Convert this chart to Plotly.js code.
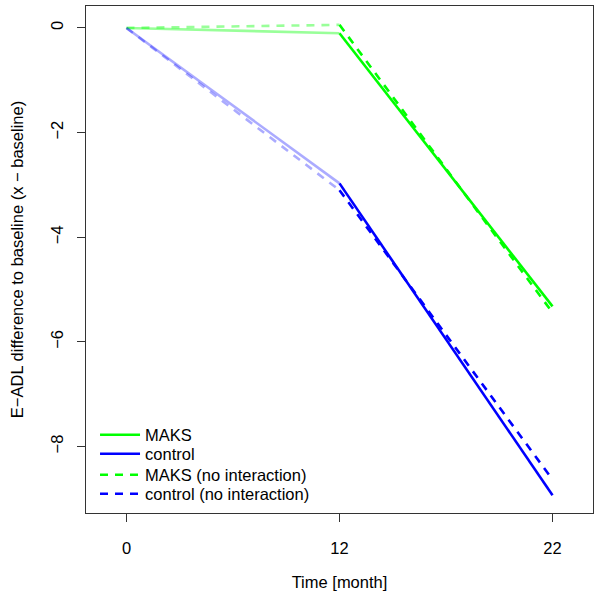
<!DOCTYPE html>
<html>
<head>
<meta charset="utf-8">
<script src="https://cdn.plot.ly/plotly-3.0.1.min.js"></script>
<style>html,body{margin:0;padding:0;background:#fff;}#chart{width:600px;height:600px;}</style>
</head>
<body>
<div id="chart"></div>
<script>
// Time points (equally spaced positions, labelled by month)
var months = ['0', '12', '22'];
var positions = [1, 2, 3];

// E-ADL difference to baseline
var maks = [0, -0.1, -5.32];
var control = [0, -2.97, -8.93];
var maksNoInt = [0, 0.06, -5.44];
var controlNoInt = [0, -3.1, -8.63];

var green = 'rgb(0,255,0)';
var blue = 'rgb(0,0,255)';
var lightGreen = 'rgba(0,255,0,0.4)';
var lightBlue = 'rgba(0,0,255,0.33)';
var W = 2.6;
var DASH = '8px,7px';

function seg(vals, i0, i1, color, dash, name, show, leg) {
  return {
    x: positions.slice(i0, i1 + 1),
    y: vals.slice(i0, i1 + 1),
    mode: 'lines',
    type: 'scatter',
    name: name,
    showlegend: show,
    legend: leg,
    line: {color: color, width: W, dash: dash},
    hoverinfo: 'skip'
  };
}

var traces = [
  seg(maks, 0, 1, lightGreen, 'solid', 'MAKS', false, 'legend'),
  seg(control, 0, 1, lightBlue, 'solid', 'control', false, 'legend'),
  seg(maksNoInt, 0, 1, lightGreen, DASH, 'MAKS (no interaction)', false, 'legend'),
  seg(controlNoInt, 0, 1, lightBlue, DASH, 'control (no interaction)', false, 'legend'),
  seg(maks, 1, 2, green, 'solid', 'MAKS', true, 'legend'),
  seg(control, 1, 2, blue, 'solid', 'control', true, 'legend2'),
  seg(maksNoInt, 1, 2, green, DASH, 'MAKS (no interaction)', true, 'legend3'),
  seg(controlNoInt, 1, 2, blue, DASH, 'control (no interaction)', true, 'legend4')
];

var font = {family: 'Liberation Sans, Arial, Helvetica, sans-serif', size: 16.5, color: '#000'};

function leg(y) {
  return {
    x: 0.0178, y: y, xanchor: 'left', yanchor: 'middle',
    bgcolor: 'rgba(0,0,0,0)', font: font, itemwidth: 40
  };
}

var layout = {
  width: 600,
  height: 600,
  margin: {l: 86, r: 7, t: 6, b: 87},
  paper_bgcolor: '#fff',
  plot_bgcolor: '#fff',
  font: font,
  showlegend: true,
  legend: leg(0.1538),
  legend2: leg(0.1164),
  legend3: leg(0.0750),
  legend4: leg(0.0375),
  xaxis: {
    range: [0.81, 3.19],
    tickvals: positions,
    ticktext: months,
    showgrid: false, zeroline: false,
    showline: true, mirror: true, linecolor: '#333', linewidth: 1,
    ticks: 'outside', ticklen: 8, tickcolor: '#333',
    ticklabelstandoff: 12,
    tickfont: font,
    title: {text: 'Time [month]', font: font, standoff: 20}
  },
  yaxis: {
    range: [-9.27, 0.42],
    tickvals: [0, -2, -4, -6, -8],
    ticktext: ['0', '\u22122', '\u22124', '\u22126', '\u22128'],
    tickangle: -90,
    showgrid: false, zeroline: false,
    showline: true, mirror: true, linecolor: '#333', linewidth: 1,
    ticks: 'outside', ticklen: 8, tickcolor: '#333',
    ticklabelstandoff: 7,
    tickfont: font,
    title: {text: 'E\u2212ADL difference to baseline (x \u2212 baseline)', font: font, standoff: 20}
  }
};

Plotly.newPlot('chart', traces, layout, {displayModeBar: false, staticPlot: true});
</script>
</body>
</html>
